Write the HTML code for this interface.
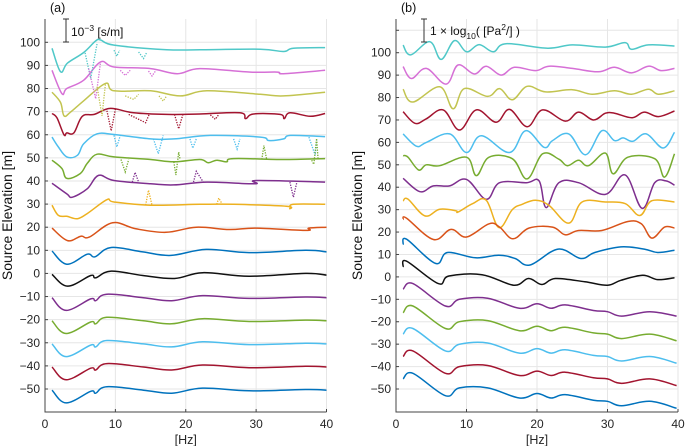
<!DOCTYPE html>
<html><head><meta charset="utf-8">
<style>
html,body{margin:0;padding:0;background:#fff;}
svg{display:block;font-family:"Liberation Sans",sans-serif;}
</style></head>
<body>
<svg id="chart" width="685" height="446" viewBox="0 0 685 446"></svg>
<script>
// ===== Panel A data =====
const yTicksA = [100,90,80,70,60,50,40,30,20,10,0,-10,-20,-30,-40,-50];
const yTicksB = [110,100,90,80,70,60,50,40,30,20,10,0,-10,-20,-30,-40,-50];
const xTicks = [0,10,20,30,40];
const colorsA = ['#4fc8c8','#d670d6','#c2c450','#a2142f','#4dbeee','#77ac30','#7e2f8e','#edb120','#d95319','#0072bd','#111111','#7e2f8e','#77ac30','#4dbeee','#a2142f','#0072bd'];
const a100 = [[1,97.4],[2.2,87.3],[3.2,91],[5.5,95.6],[7.2,100.6],[7.9,101],[9.8,98.8],[17.3,96.8],[22,96.8],[30.6,97],[33.9,96],[35.3,97.4],[39.8,97.7]];
const a90 = [[1,87.9],[2.4,77.8],[3.1,80],[5.5,83.6],[7.9,91.5],[9.8,89.3],[15,88.6],[18.8,86.4],[22,88.6],[29.2,87.1],[33,87.1],[33.9,86.4],[39.8,87.9]];
const a80 = [[1,78.4],[2.2,74],[2.7,68.2],[3.6,69.7],[5.5,74.7],[8.6,82.2],[9.8,79],[15,79],[19.2,76.8],[23,79],[30.6,77.5],[33.9,76.8],[39.8,78.4]];
const a70 = [[1,69.2],[1.7,67.3],[2.7,60],[3.1,60.8],[4.1,60.8],[5.3,68],[7,68.8],[9.3,71.4],[12.6,69.5],[17.3,68.8],[22,69],[27.7,69.5],[28.5,67],[29.6,69],[33.4,68.8],[34,67],[34.8,69.5],[37.7,68],[39.8,69.2]];
const a60 = [[1,59],[1.9,54.7],[3.1,50.4],[4.6,51.1],[5.5,56.1],[7.4,60.4],[9.8,60.1],[15,58.2],[18.3,58.2],[23.5,59.7],[30.6,59],[31.8,57.5],[33.9,58.2],[34.9,59.7],[39.8,59.2]];
const a50 = [[1,49],[2.4,45.4],[3.1,41.1],[5,43.2],[6,47.6],[7.4,51.6],[9.8,50.4],[15,49.3],[18.3,48.3],[22,49.3],[23.2,47.9],[24.4,49],[25.8,48.3],[26.8,49.7],[33.9,49.3],[39.8,49.7]];
const a40 = [[1,39],[3.1,34.4],[3.9,33],[6,36.6],[7.6,42.4],[9.8,40.2],[15,38.8],[18.3,38.3],[23,39.5],[29.8,38.8],[30.1,40.2],[39.8,39.5]];
const a30 = [[1,29.5],[1.9,25.1],[3.1,24.7],[4.6,23.7],[6,25.9],[8.8,31.9],[9.8,30.9],[15,29.5],[22,29.9],[26.8,29.9],[34.3,29.1],[34.8,28],[35.3,29.9],[39.8,29.9]];
const a20 = [[1,19.6],[3.2,14.2],[5.1,16.1],[6.3,15.7],[9.6,21.9],[12.9,19.3],[17.2,17.8],[21.5,20],[26.2,19],[30,19.6],[37.1,18.6],[37.5,19.6],[40,20]];
const a10 = [[1,9.7],[3.1,4],[6,8.3],[7.1,7.2],[9.4,11.2],[13.9,9.3],[17.9,7.8],[22.9,10.4],[29,9],[37,10],[40,9.3]];
const a0 = [[1,-0.4],[3.2,-5.5],[6.5,-0.9],[7.2,-1.9],[9.4,1],[13.9,-0.9],[18.4,-2.2],[22.4,0.3],[29,-1.2],[37,0],[40,-0.7]];
const am10 = [[1,-10.5],[3,-16],[6.5,-11],[7.2,-11.8],[8.8,-9],[14,-10.5],[18,-11.8],[22.4,-9.6],[29,-10.8],[37,-10.2],[40,-10.5]];
const am20 = [[1,-20.5],[3,-26],[6.5,-21],[7.2,-21.8],[8.8,-19],[14,-20.5],[18,-21.8],[22.4,-19.6],[29,-20.8],[37,-20.2],[40,-20.5]];
const am30 = [[1,-30.5],[3,-36],[6.5,-31],[7.2,-31.8],[8.8,-29],[14,-30.5],[18,-31.8],[22.4,-29.6],[29,-30.8],[37,-30.2],[40,-30.5]];
const am40 = [[1,-40.5],[3,-46],[6.5,-41],[7.2,-41.8],[8.8,-39],[14,-40.5],[18,-41.8],[22.4,-39.6],[29,-40.8],[37,-40.2],[40,-40.5]];
const am50 = [[1,-50.5],[3,-56],[6.5,-51],[7.2,-51.8],[8.8,-49],[14,-50.5],[18,-51.8],[22.4,-49.6],[29,-50.8],[37,-50.2],[40,-50.5]];
const seriesA = [a100,a90,a80,a70,a60,a50,a40,a30,a20,a10,a0,am10,am20,am30,am40,am50];
// dotted excursions in panel A
const dotA100 = [[[5.7,95.4],[6.5,84.4],[7.4,99.5]],[[9.8,96.6],[10.2,94],[10.6,96.6]],[[13.3,95.8],[14,93],[14.5,95.8]]];
const dotA90 = [[[6.2,88.6],[7.2,75.6],[7.9,91.5]],[[10.7,87.9],[11.4,85.7],[12.1,87.9]],[[14.7,87.6],[15.2,85.4],[15.7,87.6]]];
const dotA80 = [[[7.4,80.8],[8.1,68.2],[8.6,82.2]],[[11.4,76.8],[12.6,75.3],[13.3,77.5]],[[16.2,76.8],[16.8,74.6],[17.3,76.8]]];
const dotA70 = [[[8.8,70.4],[9.4,61.7],[10,71]],[[11.9,68.8],[14.3,65.2],[14.8,68.8]],[[18.4,68.8],[19,62.6],[19.6,68.8]],[[23.5,68.6],[24.2,66.7],[24.7,68.8]]];
const dotA60 = [[[9.8,59.7],[10.2,54.7],[10.7,59.7]],[[15.4,58.2],[16.1,51.8],[16.8,59.7]],[[20.6,58.2],[21,54.2],[21.5,58.2]],[[26.8,58.2],[27.3,53.8],[27.7,58.2]],[[37.5,59],[38.4,51.1],[38.6,57.5]]];
const dotA50 = [[[10.8,49.3],[11.4,43.9],[11.9,49.3]],[[18.3,48.3],[18.6,42.6],[19,52.5],[19.2,49.3]],[[30.8,49.3],[31.1,55.3],[31.5,49.3]],[[37.9,49],[38.2,47.2],[38.6,58.4],[38.8,49.3]]];
const dotA40 = [[[12.4,39.5],[12.8,43.7],[13.3,39.5]],[[21.1,39.5],[21.5,44.2],[22.5,39.5]],[[34.8,39.5],[35.3,33],[35.8,39.5]]];
const dotA30 = [[[14.3,29.5],[14.7,36],[15.2,29.5]],[[24.4,29.9],[24.7,32.6],[25.2,29.9]]];
const dottedA = [dotA100,dotA90,dotA80,dotA70,dotA60,dotA50,dotA40,dotA30];
const dotColorsA = ['#4fc8c8','#d670d6','#c2c450','#a2142f','#4dbeee','#77ac30','#7e2f8e','#edb120'];

// ===== Panel B data =====
const b100 = [[1,103.4],[2.1,99],[4.8,104.9],[6.4,97],[8.3,105.4],[10,100.4],[11.8,103.6],[13.8,100.4],[15.6,104],[21.5,102],[25,103.5],[29.7,102.5],[32.5,104.5],[33.4,101.5],[35.8,103.5],[39.5,103]];
const b90 = [[1,93.8],[2.2,88.5],[4.3,93],[7.1,86],[8.8,94.5],[11.1,90.5],[12.8,94],[14.9,90],[16.8,93.5],[19.8,92],[21.7,94],[25,93],[28.7,91.5],[31,93.5],[33.4,91],[35.8,94],[37.6,92],[39.5,93]];
const b80 = [[1,83.7],[2.4,78],[6.2,84.8],[8.1,75],[9.7,84],[13,80.5],[14.7,84],[16.5,79],[18.6,85],[21.2,82.5],[25,83.5],[27.8,81.5],[31,83],[33.4,81.5],[35.8,83.7],[37.2,81.5],[39.5,83]];
const b70 = [[1,73.7],[2.7,68.5],[4.3,70.5],[6.7,74.5],[9,65.5],[11.4,74.5],[14.2,69],[16.1,74.7],[18.6,67],[20.8,74.5],[24,69.5],[25.9,73.5],[28,70],[29.7,73],[31,73],[33.5,71],[35.2,73.5],[37.2,71.5],[39.5,74]];
const b60 = [[1,63.8],[2.9,58.3],[4.3,60],[7.6,63.8],[10,55.5],[12.1,63],[16.1,55.5],[18.4,65.2],[21,57.8],[22.2,60.8],[24.5,63.8],[26.9,54.5],[29.2,65.2],[31,60.8],[32.2,62],[33.6,60.5],[35.5,63.8],[37.9,57.5],[39.5,64.5]];
const b50 = [[1,54.1],[1.7,53.4],[3.2,47.7],[4.3,50],[6.2,49.6],[10,53.4],[11.4,45.2],[13.2,53.4],[16.5,52.7],[18.6,43.7],[20.8,54.9],[23.1,52.5],[24.3,49.6],[25.9,52],[27.3,49.6],[29.7,55.2],[30.8,46],[32.9,53.4],[36.7,52.7],[38.1,44.5],[39.5,54.9]];
const b40 = [[1,44],[3.4,38],[5.3,40.6],[7.6,40.6],[10,43.5],[12.8,34.6],[14.7,42],[18.5,42],[20.3,42.8],[21.3,30.9],[23.1,42],[25.9,42],[29.7,36.8],[32.5,45.5],[34.9,30.6],[36.7,42],[38.3,42.8],[39.5,40.9]];
const b30 = [[1,33.9],[1.7,34.7],[4.1,27.2],[6.2,30.2],[8.5,29.5],[8.8,28.9],[10.9,32.7],[12.8,34.2],[14.6,22],[16.5,30],[17.9,32.4],[19.8,34.2],[21.7,31.9],[24.5,24],[26.4,33.4],[29.7,33.4],[32.5,32.7],[34.6,27.4],[36.3,34],[39.5,33.4]];
const b20 = [[1,25.6],[1.5,26.2],[5.3,16.7],[7.8,21.2],[10,17.8],[13.2,23.7],[14.7,22.2],[16.6,17],[18.9,21.8],[22.2,22.2],[24,18.8],[25.9,20.7],[29.2,20.7],[32.9,24.7],[34.8,23.7],[36.3,17.3],[38.1,22.2],[39.5,21.8]];
const b10 = [[1,14.4],[1.5,16.8],[5.6,6],[7.3,10.9],[11.3,8.5],[14.6,9.7],[16.9,8.2],[19,5.3],[23,12.4],[26.2,8.2],[28.2,10.9],[31.9,13.4],[35.2,12.4],[37.1,10.9],[39.5,11.9]];
const b0 = [[1,4.4],[1.5,7],[6,-3],[7.5,0.4],[12.2,1],[16.7,-3.7],[18.8,-0.7],[20.7,-3.4],[22.6,-0.7],[26.8,-2.2],[30,-3.7],[31.9,-1.5],[35,0.7],[37.1,-1.2],[39.5,-0.4]];
const bm10 = [[1,-5.5],[2.4,-3],[7,-13],[9,-10],[13,-9.5],[17.5,-14],[20,-12],[22,-14],[24,-12.5],[28,-15],[30,-15.5],[32,-17.5],[36,-15.5],[39.8,-17.5]];
const bm20 = [[1,-16],[2.4,-13],[7,-23],[9,-20],[13,-19.5],[17.5,-24],[20,-22],[22,-24],[24,-22.5],[28,-25],[30,-25.5],[32,-27.5],[36,-25.5],[39.8,-28.5]];
const bm30 = [[1,-25.5],[2.4,-23],[7,-33],[9,-30],[13,-29.5],[17.5,-34],[20,-32],[22,-34],[24,-32.5],[28,-35],[30,-35.5],[32,-37.5],[36,-35.5],[39.8,-38.5]];
const bm40 = [[1,-35.5],[2.4,-33],[7,-43],[9,-40],[13,-39.5],[17.5,-44],[20,-42],[22,-44],[24,-42.5],[28,-45],[30,-45.5],[32,-47.5],[36,-45.5],[39.8,-48.5]];
const bm50 = [[1,-45.5],[2.4,-43],[7,-53],[9,-49.5],[13,-49.5],[17.5,-54],[20,-52],[22,-54],[24,-52.5],[28,-55],[30,-55.5],[32,-57.5],[36,-55.5],[39.8,-58.6]];
const seriesB = [b100,b90,b80,b70,b60,b50,b40,b30,b20,b10,b0,bm10,bm20,bm30,bm40,bm50];

const NS='http://www.w3.org/2000/svg';
const svg=document.getElementById('chart');
function mk(tag,attrs,parent){const e=document.createElementNS(NS,tag);for(const k in attrs)e.setAttribute(k,attrs[k]);(parent||svg).appendChild(e);return e;}
function smoothPath(pts){
  let d='M'+pts[0][0].toFixed(1)+','+pts[0][1].toFixed(1);
  for(let i=0;i<pts.length-1;i++){
    const p0=pts[i-1]||pts[i],p1=pts[i],p2=pts[i+1],p3=pts[i+2]||p2;
    const t=0.18;
    const c1x=p1[0]+(p2[0]-p0[0])*t,c1y=p1[1]+(p2[1]-p0[1])*t;
    const c2x=p2[0]-(p3[0]-p1[0])*t,c2y=p2[1]-(p3[1]-p1[1])*t;
    d+='C'+c1x.toFixed(1)+','+c1y.toFixed(1)+' '+c2x.toFixed(1)+','+c2y.toFixed(1)+' '+p2[0].toFixed(1)+','+p2[1].toFixed(1);
  }
  return d;
}

const panels=[
 {id:'a',x0:45,x1:326.5,yTop:19,yBot:412,v0:100,p0:42.3,v1:-50,p1:389,ticks:yTicksA,series:seriesA,label:'(a)',lx:50,tickLblX:40,titleX:12},
 {id:'b',x0:396,x1:678,yTop:19,yBot:412,v0:100,p0:52.7,v1:-50,p1:389,ticks:yTicksB,series:seriesB,label:'(b)',lx:401,tickLblX:391,titleX:362}
];
panels.forEach(P=>{
 const sx=f=>P.x0+(P.x1-P.x0)*f/40;
 const sy=v=>P.p0+(P.p1-P.p0)*(v-P.v0)/(P.v1-P.v0);
 const g=mk('g',{});
 
 
 xTicks.forEach(t=>{ if(t>0){const l=mk('line',{x1:sx(t),x2:sx(t),y1:P.yTop,y2:P.yBot,stroke:'#e6e6e6','stroke-width':1},g);
    }});
 P.ticks.forEach(t=>{const y=sy(t); if(y<P.yTop-0.5)return;
   const l=mk('line',{x1:P.x0,x2:P.x1,y1:y,y2:y,stroke:'#e6e6e6','stroke-width':1},g);
    
   const tk=mk('line',{x1:P.x0,x2:P.x0+3,y1:y,y2:y,stroke:'#444','stroke-width':1},g);
    
   if(t<=100){const tx=mk('text',{x:P.tickLblX,y:y+4,'text-anchor':'end','font-size':12,fill:'#262626'},g);tx.textContent=t<0?'\u2212'+(-t):t;
    }
 });
 const ax=mk('path',{d:`M${P.x0},${P.yTop}V${P.yBot}H${P.x1}`,fill:'none',stroke:'#444','stroke-width':1},g);
  
 xTicks.forEach(t=>{
   const tk=mk('line',{x1:sx(t),x2:sx(t),y1:P.yBot,y2:P.yBot-3,stroke:'#444'},g);
    
   const tx=mk('text',{x:sx(t),y:P.yBot+16,'text-anchor':'middle','font-size':12,fill:'#262626'},g);tx.textContent=t;
    
 });
 const xt=mk('text',{x:(P.x0+P.x1)/2,y:P.yBot+32,'text-anchor':'middle','font-size':12.5,fill:'#262626'},g);xt.textContent='[Hz]';
  
 const yt=mk('text',{x:0,y:0,'text-anchor':'middle','font-size':14,fill:'#111',transform:`translate(${P.titleX},${(P.yTop+P.yBot)/2}) rotate(-90)`},g);yt.textContent='Source Elevation [m]';
  
 const pl=mk('text',{x:P.lx,y:12,'font-size':12.5,fill:'#111'},g);pl.textContent=P.label;
  
 P.series.forEach((s,i)=>{
   const pts=s.map(p=>[sx(p[0]),sy(p[1])]);
   const pa=mk('path',{d:smoothPath(pts),fill:'none',stroke:colorsA[i],'stroke-width':1.5,'stroke-linejoin':'round'},g);
   
   
 });
 if(P.id==='a'){
   dottedA.forEach((grp,i)=>grp.forEach(seg=>{
     const d=seg.map((p,j)=>(j?'L':'M')+sx(p[0]).toFixed(1)+','+sy(p[1]).toFixed(1)).join('');
     const pa=mk('path',{d:d,fill:'none',stroke:dotColorsA[i],'stroke-width':1.3,'stroke-dasharray':'1.3,1.3'},g);
     
     
   }));
 }
});
function scalebar(x,y1,y2,name){
 const g=mk('g',{stroke:'#333','stroke-width':1});
  
 mk('line',{x1:x,x2:x,y1:y1,y2:y2},g);mk('line',{x1:x-3,x2:x+3,y1:y1,y2:y1},g);mk('line',{x1:x-3,x2:x+3,y1:y2,y2:y2},g);
}
scalebar(66,19,42,'scale-bar-a');
scalebar(424,19,42,'scale-bar-b');
const sa=mk('text',{x:71,y:36,'font-size':12,fill:'#111'});
 
sa.innerHTML='10<tspan dy="-5" font-size="8.5">\u22123</tspan><tspan dy="5"> [s/m]</tspan>';
const sb=mk('text',{x:430,y:35,'font-size':12,fill:'#111'});
 
sb.innerHTML='1 \u00d7 log<tspan dy="4" font-size="8.5">10</tspan><tspan dy="-4">( [Pa</tspan><tspan dy="-5" font-size="8.5">2</tspan><tspan dy="5">/] )</tspan>';
</script>
</body></html>
